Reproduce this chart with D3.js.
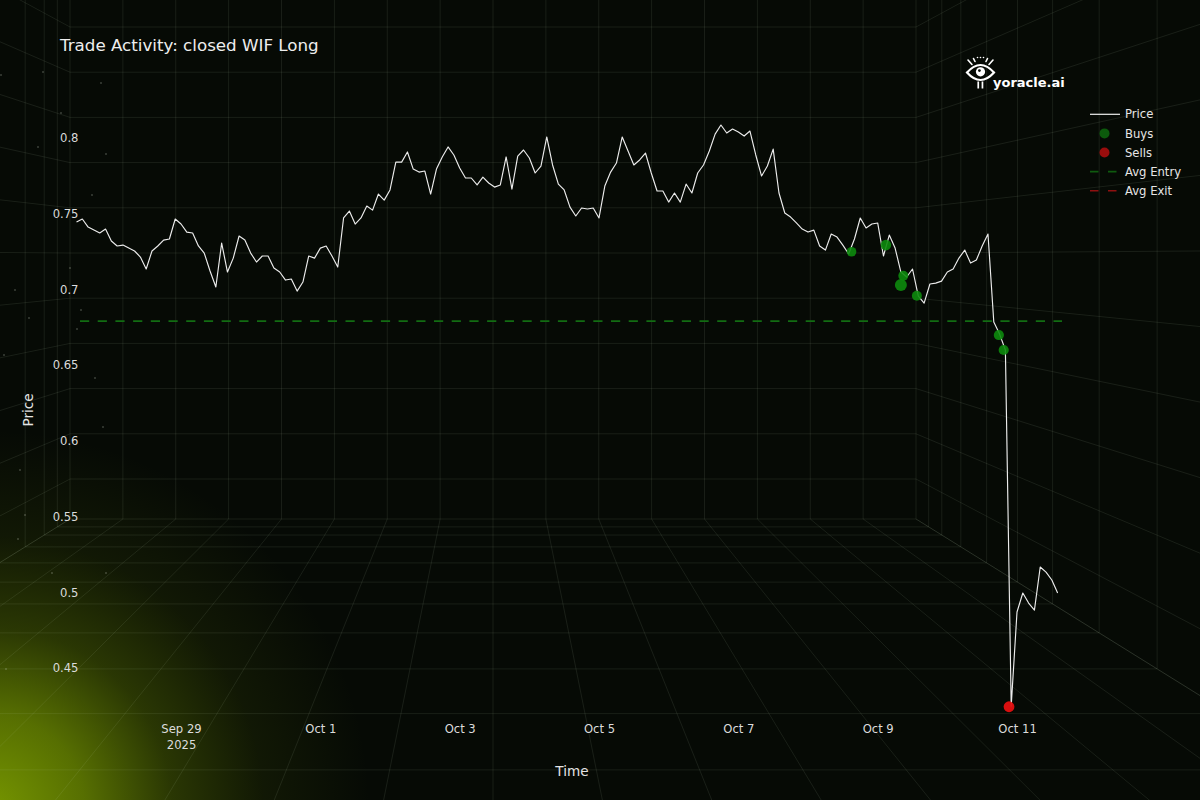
<!DOCTYPE html>
<html>
<head>
<meta charset="utf-8">
<script src="https://cdn.jsdelivr.net/npm/d3@7"></script>
<style>
html,body{margin:0;padding:0;background:#060a05;overflow:hidden}
text{font-family:"DejaVu Sans",sans-serif}
</style>
</head>
<body>
<svg id="chart" width="1200" height="800"></svg>
<script>
// ---------------- data ----------------
const titleText = "Trade Activity: closed WIF Long";
const startTime = "2025-09-27T12:00:00Z";
const stepHours = 2;
const prices = [
0.7445,0.7465,0.7412,0.7392,0.7373,0.7399,0.7320,0.7287,0.7293,0.7273,
0.7254,0.7214,0.7135,0.7254,0.7287,0.7326,0.7333,0.7465,0.7432,0.7379,
0.7373,0.7287,0.7240,0.7122,0.7016,0.7306,0.7115,0.7207,0.7353,0.7326,
0.7240,0.7181,0.7221,0.7221,0.7141,0.7115,0.7062,0.7069,0.6989,0.7049,
0.7221,0.7207,0.7273,0.7287,0.7221,0.7148,0.7472,0.7518,0.7432,0.7472,
0.7551,0.7524,0.7630,0.7590,0.7657,0.7841,0.7841,0.7908,0.7795,0.7775,
0.7782,0.7630,0.7795,0.7875,0.7941,0.7888,0.7802,0.7736,0.7736,0.7690,
0.7742,0.7703,0.7676,0.7690,0.7875,0.7663,0.7881,0.7921,0.7868,0.7769,
0.7815,0.8007,0.7822,0.7696,0.7657,0.7544,0.7485,0.7538,0.7531,0.7538,
0.7472,0.7683,0.7775,0.7835,0.8007,0.7914,0.7822,0.7855,0.7901,0.7769,
0.7650,0.7650,0.7577,0.7637,0.7577,0.7696,0.7637,0.7769,0.7822,0.7914,
0.8026,0.8086,0.8033,0.8059,0.8040,0.8013,0.8046,0.7888,0.7749,0.7815,
0.7927,0.7637,0.7505,0.7478,0.7439,0.7399,0.7379,0.7392,0.7287,0.7260,
0.7366,0.7346,0.7293,0.7234,0.7333,0.7472,0.7406,0.7432,0.7439,0.7221,
0.7359,0.7273,0.7115,0.7082,0.7135,0.6956,0.6910,0.7036,0.7042,0.7055,
0.7115,0.7135,0.7207,0.7260,0.7174,0.7194,0.7287,0.7366,0.6785,0.6705,
0.6600,0.4248,0.4870,0.4995,0.4929,0.4882,0.5167,0.5133,0.5081,0.4995
];
const buyTimes  = ["2025-10-08T15:00:00Z","2025-10-09T02:50:00Z","2025-10-09T08:50:00Z","2025-10-09T08:00:00Z","2025-10-09T13:30:00Z","2025-10-10T17:45:00Z","2025-10-10T19:25:00Z"];
const buyPrices = [0.7249,0.7293,0.7091,0.7029,0.6958,0.6699,0.6600];
const buySizes  = [4.8,5.3,5.0,6.0,5.0,5.1,5.1];
const sellTimes  = ["2025-10-10T21:15:00Z"];
const sellPrices = [0.4244];
const avgEntry = 0.6791;
const yTickValues = [0.45,0.5,0.55,0.6,0.65,0.7,0.75,0.8];
const yTickLabels = ["0.45","0.5","0.55","0.6","0.65","0.7","0.75","0.8"];
const xTickDates  = ["2025-09-29T00:00:00Z","2025-10-01T00:00:00Z","2025-10-03T00:00:00Z","2025-10-05T00:00:00Z","2025-10-07T00:00:00Z","2025-10-09T00:00:00Z","2025-10-11T00:00:00Z"];
const xTickLabels = ["Sep 29\n2025","Oct 1","Oct 3","Oct 5","Oct 7","Oct 9","Oct 11"];
const legendLabels = ["Price","Buys","Sells","Avg Entry","Avg Exit"];
const xAxisLabel = "Time";
const yAxisLabel = "Price";
const brandText = "yoracle.ai";

// ---------------- layout ----------------
const W = 1200, H = 800;
const svg = d3.select("#chart");
const t0 = new Date(startTime).getTime();
const series = prices.map((p, i) => ({t: new Date(t0 + i * stepHours * 3600e3), p}));

const x = d3.scaleUtc()
  .domain([new Date("2025-09-27T12:10:00Z"), new Date("2025-10-11T15:30:00Z")])
  .range([77, 1062]);
const y = d3.scaleLinear().domain([0.40, 0.83]).range([743.7, 92.6]);

// ---------------- background ----------------
svg.append("rect").attr("width", W).attr("height", H).attr("fill", "#060a05");
const defs = svg.append("defs");
const rg = defs.append("radialGradient").attr("id", "glow")
  .attr("gradientUnits", "userSpaceOnUse").attr("cx", -10).attr("cy", 810).attr("r", 380);
[[0,1],[0.25,0.72],[0.48,0.32],[0.72,0.1],[1,0]].forEach(([o,a]) =>
  rg.append("stop").attr("offset", o).attr("stop-color", "rgb(118,150,0)").attr("stop-opacity", a));
svg.append("rect").attr("width", W).attr("height", H).attr("fill", "url(#glow)");

// perspective room grid (decoration)
const grid = svg.append("g").attr("stroke", "rgb(200,220,190)").attr("stroke-opacity", 0.1)
  .attr("stroke-width", 1).attr("fill", "none");
const VX = 493, VY = 256, HW = 423, HB = 263;
const depth = [1.03,1.061,1.106,1.167,1.24,1.323,1.433,1.57,1.74,1.954,2.25];
const wallX = d3.range(17).map(j => 70 + j * 52.875);
const wallY = d3.range(11).map(k => 27 + k * 45.2).concat([519]);
const seg = (x1,y1,x2,y2) => grid.append("line").attr("x1",x1).attr("y1",y1).attr("x2",x2).attr("y2",y2);
wallX.forEach(wx => seg(wx, -10, wx, 519));
wallY.forEach(wy => seg(70, wy, 916, wy));
depth.forEach(s => {
  seg(VX - HW * s, VY + HB * s, VX + HW * s, VY + HB * s);
  seg(VX + HW * s, VY - HB * s - 40, VX + HW * s, VY + HB * s);
  seg(VX - HW * s, VY - HB * s - 40, VX - HW * s, VY + HB * s);
});
const far = 3.2;
wallY.forEach(wy => {
  seg(916, wy, VX + HW * far, VY + (wy - VY) * far);
  seg(70, wy, VX - HW * far, VY + (wy - VY) * far);
});
wallX.forEach(wx => seg(wx, 519, VX + (wx - VX) * far, VY + HB * far));

// faint specks on the left edge (decoration)
const specks = [[1,75],[43,72],[101,83],[61,113],[92,195],[38,147],[106,154],[81,310],[29,318],[77,329],[15,290],[103,427],[4,355],[95,378],[25,515],[18,539],[52,573],[106,573],[6,669],[70,268],[20,470]];
svg.append("g").selectAll("circle").data(specks).join("circle")
  .attr("cx", d => d[0]).attr("cy", d => d[1]).attr("r", 0.7).attr("fill", "#cfd6c8").attr("opacity", 0.55);

// ---------------- chart ----------------
const plot = svg.append("g");
plot.append("line")
  .attr("x1", x.range()[0] + 3).attr("x2", x.range()[1])
  .attr("y1", y(avgEntry)).attr("y2", y(avgEntry))
  .attr("stroke", "#126c12").attr("stroke-width", 1.8).attr("stroke-dasharray", "9.2,8.5");

plot.append("path").datum(series)
  .attr("fill", "none").attr("stroke", "#ececec").attr("stroke-width", 1.15)
  .attr("stroke-linejoin", "round")
  .attr("d", d3.line().x(d => x(d.t)).y(d => y(d.p)));

plot.append("g").selectAll("circle").data(buyTimes.map((t,i) => ({t: new Date(t), p: buyPrices[i], r: buySizes[i]})))
  .join("circle").attr("cx", d => x(d.t)).attr("cy", d => y(d.p)).attr("r", d => d.r)
  .attr("fill", "#0d8a0d").attr("fill-opacity", 0.9);
plot.append("g").selectAll("circle").data(sellTimes.map((t,i) => ({t: new Date(t), p: sellPrices[i]})))
  .join("circle").attr("cx", d => x(d.t)).attr("cy", d => y(d.p)).attr("r", 5.4)
  .attr("fill", "#e41010").attr("fill-opacity", 0.95);

// axes
const yAxis = svg.append("g").attr("transform", "translate(78.5,0)")
  .call(d3.axisLeft(y).tickValues(yTickValues).tickSize(0).tickPadding(0)
    .tickFormat((d,i) => yTickLabels[i]));
yAxis.select(".domain").remove();
yAxis.selectAll("text").attr("fill", "#dcdcdc").style("font-size", "11.6px")
  .style("font-family", "'DejaVu Sans',sans-serif");

const xAxis = svg.append("g").attr("transform", "translate(0,716)")
  .call(d3.axisBottom(x).tickValues(xTickDates.map(d => new Date(d))).tickSize(0).tickPadding(9)
    .tickFormat((d,i) => xTickLabels[i]));
xAxis.select(".domain").remove();
xAxis.selectAll("text").attr("fill", "#dcdcdc").style("font-size", "11.6px")
  .style("font-family", "'DejaVu Sans',sans-serif")
  .each(function(d, i) {
    const lines = xTickLabels[i].split("\n");
    const t = d3.select(this); t.text(null);
    lines.forEach((ln, k) => t.append("tspan").attr("x", 0).attr("dy", k === 0 ? "0.71em" : "16px").text(ln));
  });

svg.append("text").attr("x", 60).attr("y", 50.5).text(titleText)
  .attr("fill", "#eeeeee").style("font-size", "16.7px");
svg.append("text").attr("x", 572).attr("y", 776).attr("text-anchor", "middle").text(xAxisLabel)
  .attr("fill", "#e4e4e4").style("font-size", "13.6px");
svg.append("text").attr("transform", "translate(33,410) rotate(-90)").attr("text-anchor", "middle").text(yAxisLabel)
  .attr("fill", "#e4e4e4").style("font-size", "13.6px");

// legend
const lg = svg.append("g");
const ly = d3.range(legendLabels.length).map(i => 114.3 + i * 19.1);
lg.append("line").attr("x1", 1090).attr("x2", 1120).attr("y1", ly[0]).attr("y2", ly[0]).attr("stroke", "#f0f0f0").attr("stroke-width", 1.2);
lg.append("circle").attr("cx", 1104.5).attr("cy", ly[1]).attr("r", 5).attr("fill", "#0c5a0c");
lg.append("circle").attr("cx", 1104.5).attr("cy", ly[2]).attr("r", 5).attr("fill", "#990d0d");
lg.append("line").attr("x1", 1090).attr("x2", 1120).attr("y1", ly[3]).attr("y2", ly[3]).attr("stroke", "#0f5a0f").attr("stroke-width", 1.6).attr("stroke-dasharray", "8.5,9.5");
lg.append("line").attr("x1", 1090).attr("x2", 1120).attr("y1", ly[4]).attr("y2", ly[4]).attr("stroke", "#8e1010").attr("stroke-width", 1.6).attr("stroke-dasharray", "8.5,9.5");
lg.selectAll("text").data(legendLabels).join("text")
  .attr("x", 1125).attr("y", (d,i) => ly[i]).attr("dy", "0.36em").text(d => d)
  .attr("fill", "#e6e6e6").style("font-size", "11.6px");

// brand logo
const logo = svg.append("g").attr("stroke", "#ffffff").attr("fill", "none").attr("stroke-linecap", "round");
logo.append("path").attr("d", "M967,72.5 Q980.5,57.5 994,72.5 Q980.5,87.5 967,72.5 Z").attr("stroke-width", 2.2);
logo.append("circle").attr("cx", 980.5).attr("cy", 71.8).attr("r", 4.6).attr("fill", "#ffffff").attr("stroke", "none");
logo.append("circle").attr("cx", 979.4).attr("cy", 70.6).attr("r", 1.4).attr("fill", "#060a05").attr("stroke", "none");
[[968,60,972,64.5],[973.5,58.5,975,61.5],[987.5,58.5,986,61.5],[993,60,989,64.5]].forEach(l =>
  logo.append("line").attr("x1", l[0]).attr("y1", l[1]).attr("x2", l[2]).attr("y2", l[3]).attr("stroke-width", 1.6));
[977.5,980.5,983.5].forEach(cx => logo.append("circle").attr("cx", cx).attr("cy", 57.5).attr("r", 0.8).attr("fill", "#fff").attr("stroke", "none"));
logo.append("rect").attr("x", 977.4).attr("y", 81.5).attr("width", 1.7).attr("height", 7).attr("fill", "#fff").attr("stroke", "none");
logo.append("rect").attr("x", 981.6).attr("y", 81.5).attr("width", 1.7).attr("height", 7).attr("fill", "#fff").attr("stroke", "none");
svg.append("text").attr("x", 993).attr("y", 87).text(brandText)
  .attr("fill", "#ffffff").style("font-size", "13px").style("font-weight", "bold");
</script>
</body>
</html>
